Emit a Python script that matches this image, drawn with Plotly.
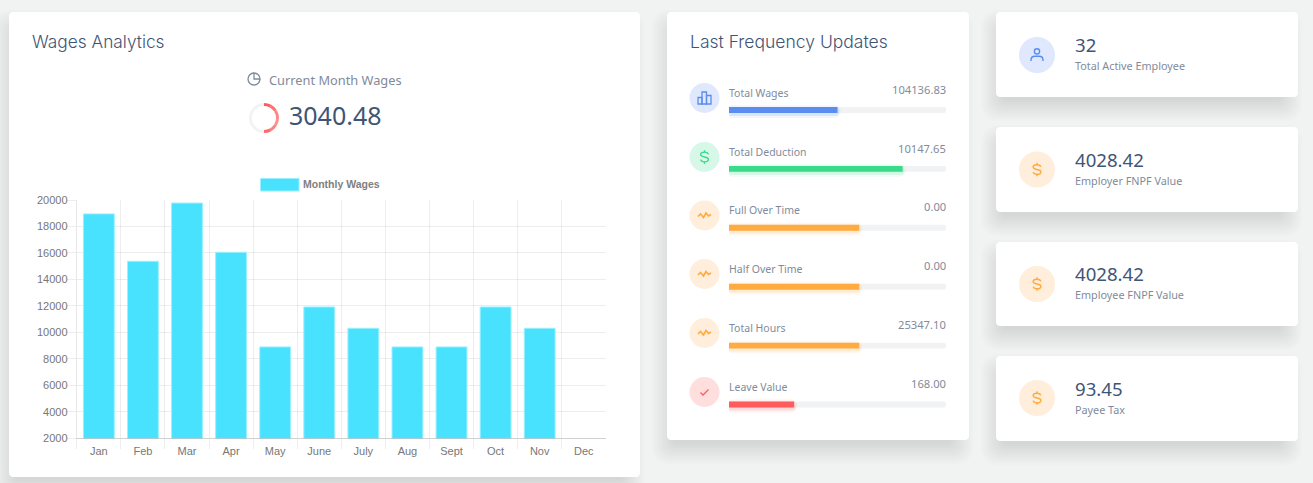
import re
import plotly.graph_objects as go

W = 1313
H = 483

# Monthly wages chart
months = ["Jan", "Feb", "Mar", "Apr", "May", "June", "July", "Aug", "Sept", "Oct", "Nov", "Dec"]
month_wages = [18950, 15370, 19770, 16050, 8900, 11920, 10310, 8900, 8900, 11920, 10310, None]

# Last frequency updates panel
update_labels = ["Total Wages", "Total Deduction", "Full Over Time", "Half Over Time", "Total Hours", "Leave Value"]
update_values = ["104136.83", "10147.65", "0.00", "0.00", "25347.10", "168.00"]
update_percent = [50, 80, 60, 60, 60, 30]
update_colors = ["#5b8def", "#39da8a", "#ffab40", "#ffab40", "#ffab40", "#ff5b5c"]

# Stat cards on the right
card_values = ["32", "4028.42", "4028.42", "93.45"]
card_labels = ["Total Active Employee", "Employer FNPF Value", "Employee FNPF Value", "Payee Tax"]

# Little donut next to the current wages
donut_values = [8, 8, 9, 9, 8, 8, 50]
donut_colors = ["#ff5b5c", "#ff7072", "#ff8587", "#ff8f91", "#ff8082", "#ff6a6c", "#f3f3f3"]

DARK = "#3f5576"
GREY = "#7f8b9c"
TITLE_FONT = "Inter"
BODY_FONT = "Noto Sans"
CHART_FONT = "Liberation Sans"

ICONS = {
    "bars": ["M-6.5 6 L-6.5 -0.5 L-2.5 -0.5 L-2.5 6 Z", "M-2.5 6 L-2.5 -6 L2 -6 L2 6 Z", "M2 6 L2 -2.5 L6.5 -2.5 L6.5 6 Z"],
    "dollar": ["M0 -6.8 L0 -4.8", "M0 4.8 L0 6.8",
               "M3.8 -2.6 C3.4 -4.2 2.2 -4.8 0 -4.8 C-2.6 -4.8 -3.9 -3.7 -3.9 -2.4 C-3.9 -0.9 -2.6 -0.4 0 0 C2.6 0.4 3.9 0.9 3.9 2.4 C3.9 3.7 2.6 4.8 0 4.8 C-2.2 4.8 -3.4 4.2 -3.8 2.6"],
    "wave": ["M-6.5 1 L-4 -1.5 L-1 2 L1.5 -2.5 L4 0.5 L6.5 -1"],
    "check": ["M-4 0.5 L-1.5 3 L4 -2.5"],
    "user": ["M2.6 -3.6 C2.6 -2.2 1.4 -1 0 -1 C-1.4 -1 -2.6 -2.2 -2.6 -3.6 C-2.6 -5 -1.4 -6.2 0 -6.2 C1.4 -6.2 2.6 -5 2.6 -3.6 Z",
             "M-6 6 L-6 5 C-6 2.5 -4 1.2 -2 1.2 L2 1.2 C4 1.2 6 2.5 6 5 L6 6"],
    "clock": ["M6 0 C6 3.3 3.3 6 0 6 C-3.3 6 -6 3.3 -6 0 C-6 -3.3 -3.3 -6 0 -6",
              "M0 -6 C3.3 -6 6 -3.3 6 0 L0 0 Z"],
}


def px(x):
    return x / W


def py(y):
    return 1 - y / H


def to_paper(path):
    # every coordinate pair in the path is page pixels, shapes want paper units
    return re.sub(r"(-?[\d.]+) (-?[\d.]+)", lambda m: f"{px(float(m[1])):.5f} {py(float(m[2])):.5f}", path)


def rounded(x0, y0, x1, y1, r):
    k = r * 0.45
    return to_paper(
        f"M{x0 + r} {y0} L{x1 - r} {y0} C{x1 - k} {y0} {x1} {y0 + k} {x1} {y0 + r} "
        f"L{x1} {y1 - r} C{x1} {y1 - k} {x1 - k} {y1} {x1 - r} {y1} "
        f"L{x0 + r} {y1} C{x0 + k} {y1} {x0} {y1 - k} {x0} {y1 - r} "
        f"L{x0} {y0 + r} C{x0} {y0 + k} {x0 + k} {y0} {x0 + r} {y0} Z"
    )


def card(x0, y0, x1, y1):
    out = []
    # stack of faint rects fakes the css box-shadow
    for i in range(14):
        e = 16 - i * 1.6
        out.append(dict(type="path", path=rounded(x0 + 1 - e, y0 + 14 - e, x1 - 12 + e, y1 + 8 + e, 8 + e / 2),
                        fillcolor="#6a7a88", opacity=0.017, line_width=0, layer="below", xref="paper", yref="paper"))
    out.append(dict(type="path", path=rounded(x0, y0, x1, y1, 4), fillcolor="white", line_width=0,
                    layer="below", xref="paper", yref="paper"))
    return out


def icon(name, cx, cy, color, width=1.3):
    out = []
    for p in ICONS[name]:
        moved = re.sub(r"(-?[\d.]+) (-?[\d.]+)", lambda m: f"{float(m[1]) + cx} {float(m[2]) + cy}", p)
        out.append(dict(type="path", path=to_paper(moved), line=dict(color=color, width=width),
                        layer="below", xref="paper", yref="paper"))
    return out


def circle(cx, cy, r, color):
    return dict(type="circle", x0=px(cx - r), x1=px(cx + r), y0=py(cy + r), y1=py(cy - r), fillcolor=color,
                line_width=0, layer="below", xref="paper", yref="paper")


def label(text, x, y, size, color, anchor="left", family=BODY_FONT, weight=None):
    font = dict(family=family, size=size, color=color)
    if weight:
        font["weight"] = weight
    return dict(text=text, x=px(x), y=py(y), xref="paper", yref="paper", xanchor=anchor, yanchor="middle",
                showarrow=False, font=font, borderpad=0, xshift=-1 if anchor == "left" else 1)


shapes = []
annotations = []

# Cards
for box in [(9, 12, 640, 477), (667, 12, 969, 440), (996, 12, 1298, 97),
            (996, 127, 1298, 212), (996, 242, 1298, 326), (996, 356, 1298, 441)]:
    shapes += card(*box)

# Wages Analytics header block
annotations.append(label("Wages Analytics", 32, 41, 17.3, DARK, family=TITLE_FONT, weight=300))
shapes += icon("clock", 254, 79, GREY)
annotations.append(label("Current Month Wages", 269, 80, 12.8, GREY))
annotations.append(label("3040.48", 289, 115, 25, DARK))

# Chart legend
shapes.append(dict(type="rect", x0=px(260.5), x1=px(299), y0=py(191), y1=py(178.5), fillcolor="#48e2ff",
                   line=dict(color="#9af0ff", width=1), layer="below", xref="paper", yref="paper"))
annotations.append(label("<b>Monthly Wages</b>", 303, 184, 10.5, "#808080", family=CHART_FONT))

# Frequency panel text and icons
annotations.append(label("Last Frequency Updates", 690, 41, 17.5, DARK, family=TITLE_FONT, weight=300))
update_tints = ["#dfe8fc", "#d7f8e8", "#ffeedb", "#ffeedb", "#ffeedb", "#ffdede"]
update_icons = ["bars", "dollar", "wave", "wave", "wave", "check"]
circle_y = [98, 157, 215.5, 274, 333, 392]
label_y = [93, 152, 210, 269, 328, 387]
value_y = [89.5, 148.5, 206.5, 265.5, 324.5, 383.5]
for i in range(6):
    shapes.append(circle(704.5, circle_y[i], 15, update_tints[i]))
    shapes += icon(update_icons[i], 704.5, circle_y[i], update_colors[i], 1.6 if update_icons[i] == "wave" else 1.3)
    annotations.append(label(update_labels[i], 729, label_y[i], 10.5, GREY))
    annotations.append(label(update_values[i], 946, value_y[i], 11.2, GREY, anchor="right"))

# Stat cards text and icons
card_tints = ["#dfe8fc", "#ffeedb", "#ffeedb", "#ffeedb"]
card_icons = ["user", "dollar", "dollar", "dollar"]
card_icon_colors = ["#5b8def", "#ffab40", "#ffab40", "#ffab40"]
card_circle_y = [55, 169.5, 284, 398]
card_value_y = [44, 159, 273, 388]
card_label_y = [65.5, 180.5, 294.5, 409.5]
for i in range(4):
    shapes.append(circle(1037, card_circle_y[i], 18, card_tints[i]))
    shapes += icon(card_icons[i], 1037, card_circle_y[i], card_icon_colors[i], 1.4)
    annotations.append(label(card_values[i], 1075, card_value_y[i], 18.6, DARK))
    annotations.append(label(card_labels[i], 1075, card_label_y[i], 10.8, GREY))

fig = go.Figure()

# Monthly wages bars
fig.add_trace(go.Bar(
    x=months, y=month_wages, width=0.7, name="Monthly Wages",
    marker=dict(color="#48e2ff", line=dict(color="#9af0ff", width=1), cornerradius=0),
    xaxis="x", yaxis="y",
))

# Progress rows: grey track, soft glow, then the coloured fill
rows = list(range(len(update_percent)))
bar_h = 6 / 59
fig.add_trace(go.Bar(
    x=[100] * len(rows), y=rows, orientation="h", width=bar_h, hoverinfo="skip",
    marker=dict(color="#f1f2f3", cornerradius="50%", line_width=0), xaxis="x2", yaxis="y2",
))
for pad, extra, alpha in [(1.4, 13 / 59, 0.07), (0.7, 9 / 59, 0.15)]:
    fig.add_trace(go.Bar(
        x=[p + 2 * pad for p in update_percent], y=[r + 1.5 / 59 for r in rows], base=-pad, orientation="h",
        width=extra, hoverinfo="skip", opacity=alpha, cliponaxis=False,
        marker=dict(color=update_colors, cornerradius="50%", line_width=0), xaxis="x2", yaxis="y2",
    ))
fig.add_trace(go.Bar(
    x=update_percent, y=rows, orientation="h", width=bar_h,
    marker=dict(color=update_colors, cornerradius="50%", line_width=0), xaxis="x2", yaxis="y2",
    customdata=update_labels, hovertemplate="%{customdata}: %{x}%<extra></extra>",
))

# Donut
fig.add_trace(go.Pie(
    values=donut_values, hole=0.8, sort=False, direction="clockwise", rotation=0,
    marker=dict(colors=donut_colors, line_width=0), textinfo="none", hoverinfo="skip", showlegend=False,
    domain=dict(x=[px(249), px(279)], y=[py(133), py(103)]),
))

grid = "rgba(0,0,0,0.07)"
fig.update_layout(
    width=W, height=H,
    margin=dict(l=0, r=0, t=0, b=0, pad=0, autoexpand=False),
    paper_bgcolor="#f1f3f3",
    plot_bgcolor="rgba(0,0,0,0)",
    barmode="overlay",
    showlegend=False,
    shapes=shapes,
    annotations=annotations,
    xaxis=dict(
        domain=[px(76.8), px(605.8)], anchor="y", range=[-0.5, 11.5], type="category", tickson="boundaries",
        ticks="outside", ticklen=10, tickcolor=grid, gridcolor=grid, gridwidth=1.4, showgrid=True, showline=True,
        linecolor="rgba(0,0,0,0.18)", tickfont=dict(family=CHART_FONT, size=11, color="#777777"), fixedrange=True,
        ticklabelstandoff=2,
    ),
    yaxis=dict(
        domain=[py(438.3), py(200)], anchor="x", range=[2000, 20000], dtick=2000, tickformat="d",
        ticks="outside", ticklen=9, tickcolor=grid, gridcolor=grid, gridwidth=1.4, showline=True,
        linecolor="rgba(0,0,0,0.09)", zeroline=False,
        tickfont=dict(family=CHART_FONT, size=11, color="#777777"), fixedrange=True,
        ticklabelstandoff=-3,
    ),
    xaxis2=dict(domain=[px(729), px(946)], anchor="y2", range=[0, 100], visible=False, fixedrange=True),
    yaxis2=dict(domain=[py(434), py(80.5)], anchor="x2", range=[5.5, -0.5], visible=False, fixedrange=True),
)

fig.write_html(
    "out.html",
    config=dict(displayModeBar=False),
    post_script="document.body.style.margin='0';document.documentElement.style.overflow='hidden';",
)
